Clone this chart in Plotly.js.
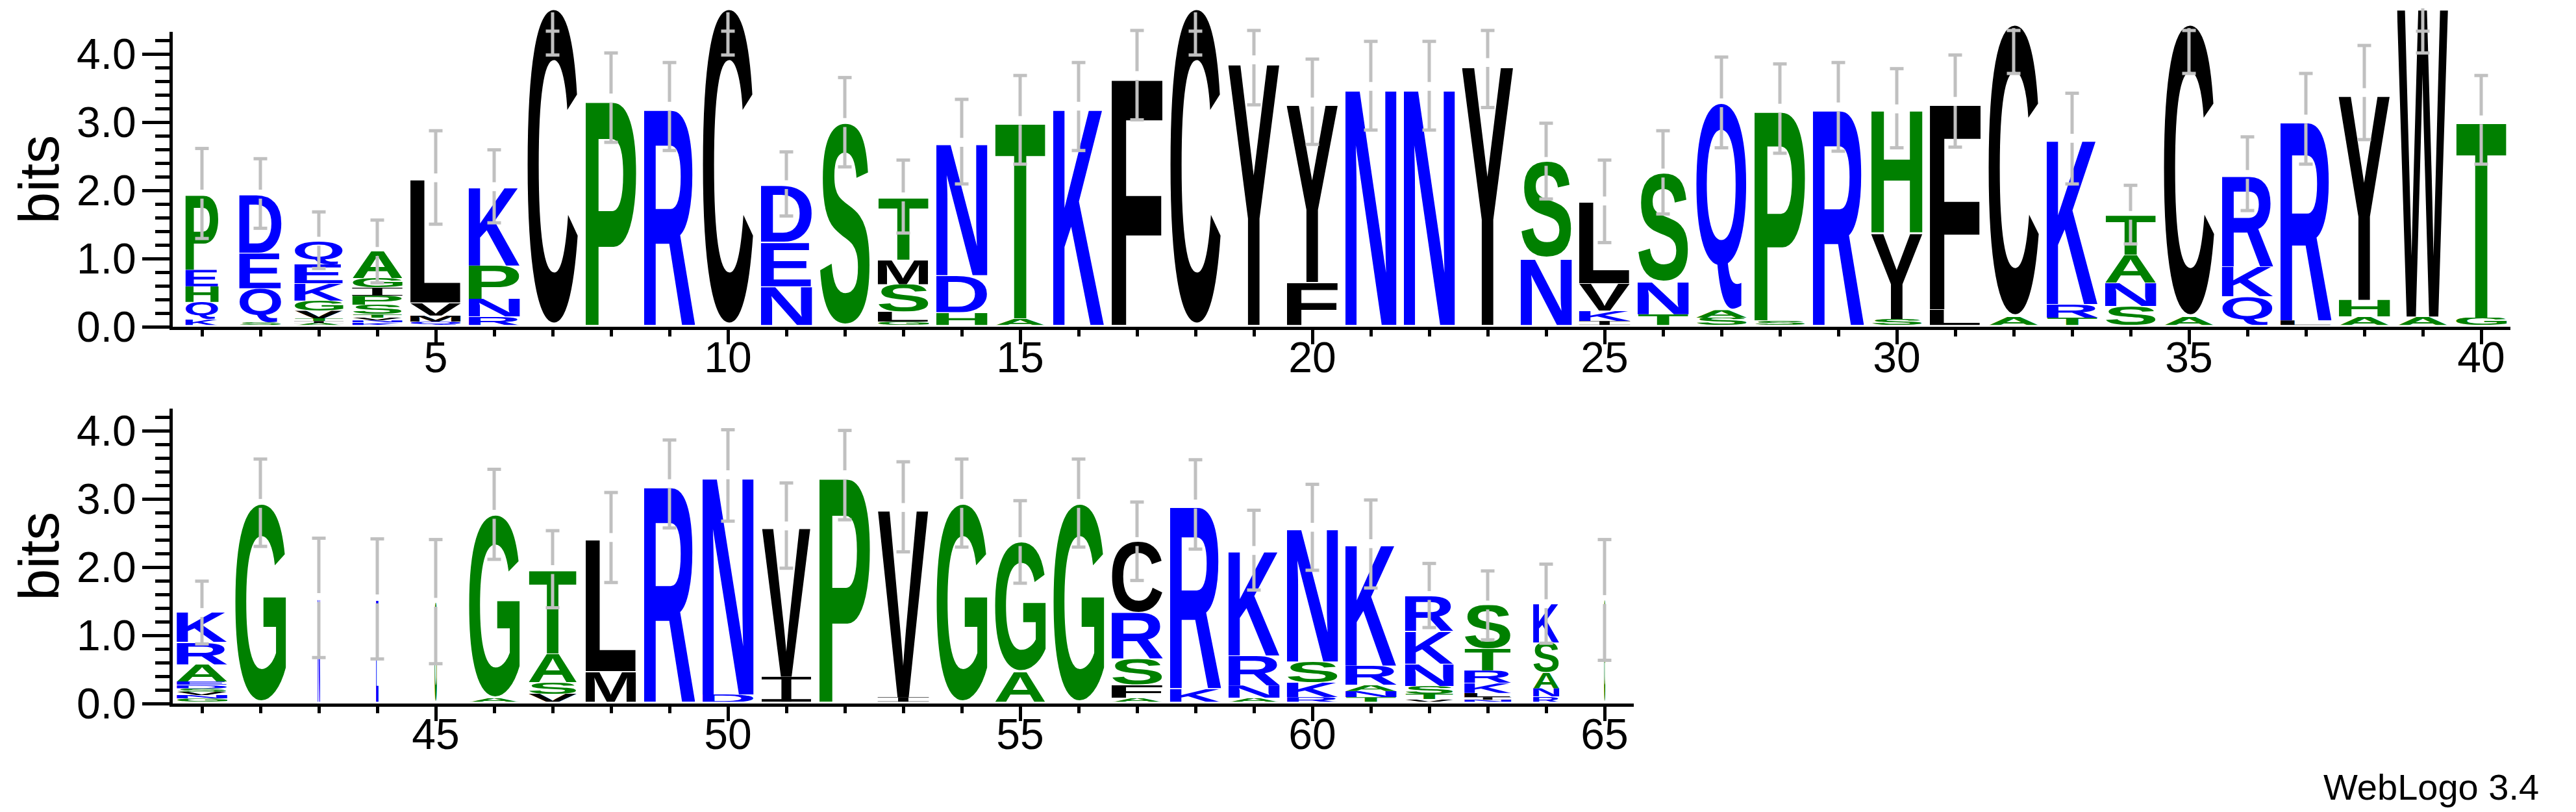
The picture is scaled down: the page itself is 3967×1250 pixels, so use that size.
<!DOCTYPE html>
<html>
<head>
<meta charset="utf-8">
<script src="https://cdn.plot.ly/plotly-3.0.1.min.js"></script>
<style>html,body{margin:0;padding:0;background:#fff;}#chart{width:3967px;height:1250px;}</style>
</head>
<body>
<div id="chart"></div>
<script>
// ---------------- DATA ----------------
const positions = [1,2,3,4,5,6,7,8,9,10,11,12,13,14,15,16,17,18,19,20,
  21,22,23,24,25,26,27,28,29,30,31,32,33,34,35,36,37,38,39,40,
  41,42,43,44,45,46,47,48,49,50,51,52,53,54,55,56,57,58,59,60,
  61,62,63,64,65];

// residues of each stack, bottom to top
const residueLetters = [
  "KQHEP","SQED","AITVGKEQ","KNVTSPIGA","QMVL","RNPK","C","P","R","C",
  "NED","S","GLSMT","HDN","AT","K","F","C","Y","FY",
  "N","N","Y","NS","IKVL","TNS","SAQ","SP","R","SYH",
  "LF","AC","TRK","SNAT","AC","QKR","LR","AHY","AW","GT",
  "GNVSDEARK","G","N","E","G","AG","VSAT","ML","R","DN",
  "IV","P","IV","G","AG","G","AFSRC","KR","ANRK","RKSN",
  "TNARK","VTSNKR","NILKRTS","RNASK","G"
];

// information (bits) of each residue, same order as residueLetters
const residueBits = [
  [0.09,0.25,0.23,0.24,1.11],
  [0.04,0.50,0.52,0.86],
  [0.03,0.03,0.04,0.11,0.15,0.25,0.28,0.34],
  [0.04,0.03,0.04,0.05,0.14,0.13,0.12,0.14,0.39],
  [0.05,0.09,0.19,1.83],
  [0.125,0.26,0.49,1.155],
  [4.65],
  [3.33],
  [3.21],
  [4.65],
  [0.57,0.65,0.84],
  [2.97],
  [0.05,0.15,0.40,0.36,0.92],
  [0.19,0.54,1.95],
  [0.10,2.90],
  [3.21],
  [3.66],
  [4.65],
  [3.89],
  [0.63,2.64],
  [3.50],
  [3.50],
  [3.85],
  [0.99,1.41],
  [0.06,0.15,0.40,1.21],
  [0.16,0.48,1.59],
  [0.11,0.11,3.04],
  [0.07,3.11],
  [3.20],
  [0.09,1.27,1.81],
  [0.23,3.05],
  [0.125,4.295],
  [0.11,0.20,2.43],
  [0.28,0.34,0.41,0.58],
  [0.125,4.295],
  [0.42,0.44,1.35],
  [0.07,2.95],
  [0.125,0.245,3.04],
  [0.125,4.585],
  [0.11,2.90],
  [0.05,0.05,0.05,0.05,0.05,0.05,0.25,0.33,0.43],
  [2.91],
  [1.53],
  [1.51],
  [1.46],
  [0.06,2.69],
  [0.12,0.17,0.42,1.23],
  [0.45,1.96],
  [3.20],
  [0.11,3.22],
  [0.37,2.21],
  [3.33],
  [0.07,2.78],
  [2.91],
  [0.45,1.90],
  [2.91],
  [0.06,0.19,0.38,0.68,1.04],
  [0.20,2.70],
  [0.06,0.18,0.44,1.54],
  [0.07,0.21,0.31,1.97],
  [0.07,0.09,0.09,0.28,1.79],
  [0.04,0.08,0.11,0.33,0.48,0.52],
  [0.03,0.04,0.06,0.15,0.18,0.32,0.64],
  [0.08,0.12,0.23,0.44,0.57],
  [1.50]
];

// relative stack width (fraction of non-gap sequences)
const stackWidth = [
  0.65,0.83,0.96,0.98,1,1,1,1,1,1,
  1,1,1,1,1,1,1,1,1,1,
  1,1,1,1,1,1,1,1,1,1,
  1,1,1,1,1,1,1,1,1,1,
  0.99,1,0.05,0.05,0.05,1,0.95,1,1,1,
  0.96,1,1,1,1,1,1,1,1,1,
  1,0.95,0.92,0.51,0.03
];

// error bar ends (bits)
const errLow = [
  1.27,1.42,0.83,0.62,1.48,1.50,3.96,2.68,2.56,3.96,
  1.60,2.32,1.35,2.07,2.36,2.56,3.01,3.96,3.23,2.65,
  2.86,2.86,3.19,1.85,1.21,1.63,2.60,2.52,2.55,2.60,
  2.61,3.69,2.07,1.19,3.69,1.68,2.36,2.72,3.99,2.36,
  0.85,2.28,0.65,0.63,0.56,2.09,1.38,1.75,2.55,2.65,
  1.96,2.67,2.20,2.27,1.74,2.27,1.78,2.24,1.64,1.93,
  1.67,1.09,0.91,0.86,0.61
];
const errHigh = [
  2.59,2.44,1.66,1.54,2.85,2.57,4.31,3.99,3.85,4.31,
  2.54,3.63,2.42,3.31,3.66,3.85,4.32,4.31,4.32,3.90,
  4.16,4.16,4.32,2.96,2.42,2.85,3.93,3.83,3.85,3.76,
  3.96,4.32,3.40,2.05,4.32,2.76,3.69,4.10,4.31,3.66,
  1.77,3.56,2.40,2.39,2.38,3.41,2.51,3.07,3.84,3.99,
  3.21,3.98,3.52,3.56,2.95,3.56,2.93,3.55,2.81,3.19,
  2.96,2.03,1.92,2.02,2.38
];

const rowSplit = 40;            // positions 1-40 top row, 41-65 bottom row
const maxBits = 4.32;           // log2(20)

// ---------------- STYLE ----------------
const hydrophilic = "RKDENQ", neutral = "SGHTAP";
function residueColor(ch){
  if (hydrophilic.indexOf(ch) >= 0) return '#0000ff';
  if (neutral.indexOf(ch) >= 0) return '#008000';
  return '#000000';
}
const FONT = '"Liberation Sans", Arial, Helvetica, sans-serif';
const W = 3967, H = 1250, PXB = 105;
const fullStack = 0.88;         // stack width in position units
const gapHalf = 0.065;          // break in the error bar at the stack top

// glyph images, stretched to each box through the axes
const cv = document.createElement('canvas');
const ctx = cv.getContext('2d');
ctx.font = 'bold 1000px ' + FONT;
const glyphCache = {};
function glyphURI(ch, color){
  const key = ch + color;
  if (glyphCache[key]) return glyphCache[key];
  let svg;
  if (ch === 'I') {
    // serifed I, as in the logo font
    svg = '<svg xmlns="http://www.w3.org/2000/svg" width="100" height="100" viewBox="0 0 100 100" preserveAspectRatio="none">' +
      '<g fill="' + color + '"><rect x="0" y="0" width="100" height="11"/><rect x="40" y="0" width="20" height="100"/>' +
      '<rect x="0" y="89" width="100" height="11"/></g></svg>';
  } else {
    const m = ctx.measureText(ch);
    const l = -m.actualBoundingBoxLeft, r = m.actualBoundingBoxRight;
    const t = -m.actualBoundingBoxAscent, b = m.actualBoundingBoxDescent;
    const w = r - l, h = b - t;
    svg = '<svg xmlns="http://www.w3.org/2000/svg" width="' + w + '" height="' + h +
      '" viewBox="' + l + ' ' + t + ' ' + w + ' ' + h + '" preserveAspectRatio="none">' +
      '<text x="0" y="0" font-family=\'' + FONT + '\' font-weight="bold" font-size="1000" fill="' + color + '">' + ch + '</text></svg>';
  }
  const uri = 'data:image/svg+xml;charset=utf-8,' + encodeURIComponent(svg);
  glyphCache[key] = uri;
  return uri;
}

const images = [];
const stems = {top:{x:[],y:[]}, bot:{x:[],y:[]}};
const caps = {top:{x:[],y:[]}, bot:{x:[],y:[]}};

positions.forEach((p, i) => {
  const top = p <= rowSplit;
  const xr = top ? 'x' : 'x2', yr = top ? 'y3' : 'y4';
  const bw = fullStack * stackWidth[i];
  let base = 0;
  const letters = residueLetters[i], bits = residueBits[i];
  for (let k = 0; k < letters.length; k++) {
    const ch = letters[k], h = bits[k];
    images.push({
      source: glyphURI(ch, residueColor(ch)),
      xref: xr, yref: yr, x: p - bw / 2, y: base, sizex: bw, sizey: h,
      xanchor: 'left', yanchor: 'bottom', sizing: 'stretch', layer: 'below'
    });
    base += h;
  }
  const s = top ? stems.top : stems.bot, c = top ? caps.top : caps.bot;
  s.x.push(p, p, null); s.y.push(errLow[i], base - gapHalf, null);
  if (errHigh[i] > base + gapHalf) { s.x.push(p, p, null); s.y.push(base + gapHalf, errHigh[i], null); }
  c.x.push(p, p); c.y.push(errLow[i], errHigh[i]);
});

const GRAY = '#c0c0c0';
function stemTrace(d, xa, ya){ return {type:'scatter', mode:'lines', x:d.x, y:d.y, xaxis:xa, yaxis:ya,
  line:{color:GRAY, width:5}, hoverinfo:'skip', showlegend:false, connectgaps:false}; }
function capTrace(d, xa, ya){ return {type:'scatter', mode:'markers', x:d.x, y:d.y, xaxis:xa, yaxis:ya,
  marker:{symbol:'line-ew', size:15, color:GRAY, line:{color:GRAY, width:5}}, hoverinfo:'skip', showlegend:false, cliponaxis:false}; }
// empty traces so the labelled axes' subplots exist
function axisTrace(xa, ya){ return {type:'scatter', mode:'markers', x:[], y:[], xaxis:xa, yaxis:ya, hoverinfo:'skip', showlegend:false}; }

const traces = [
  axisTrace('x', 'y'), axisTrace('x2', 'y2'),
  stemTrace(stems.top, 'x', 'y3'), capTrace(caps.top, 'x', 'y3'),
  stemTrace(stems.bot, 'x2', 'y4'), capTrace(caps.bot, 'x2', 'y4')
];

// ---------------- LAYOUT ----------------
const xLeft = 266, xRightTop = 3866, xRightBot = 2516;
const zeroTop = 503, zeroBot = 1083;
function yDom(zeroPx, bits){ return [(H - zeroPx) / H, (H - zeroPx + bits * PXB) / H]; }

const tickFont = {family: FONT, size: 66, color: '#000'};
function xAxis(range, right, anchor){
  return {domain:[xLeft / W, right / W], range: range, anchor: anchor,
    showline:true, linewidth:5, linecolor:'#000', ticks:'outside', tickwidth:5, ticklen:22, tickcolor:'#000',
    tick0:0, dtick:5, tickfont: tickFont, ticklabelstandoff:-36, showgrid:false, zeroline:false, fixedrange:true,
    minor:{dtick:1, tick0:0, ticks:'outside', ticklen:10, tickwidth:5, tickcolor:'#000', showgrid:false}};
}
function yAxis(zeroPx, anchor){
  return {domain: yDom(zeroPx, maxBits), range:[0, maxBits], anchor: anchor,
    showline:true, linewidth:5, linecolor:'#000', ticks:'outside', tickwidth:5, ticklen:42, tickcolor:'#000',
    tick0:0, dtick:1, tickformat:'.1f', tickfont: tickFont, ticklabelstandoff:-4, showgrid:false, zeroline:false, fixedrange:true,
    minor:{dtick:0.2, tick0:0, ticks:'outside', ticklen:22, tickwidth:5, tickcolor:'#000', showgrid:false},
    title:{text:'bits', font:{family: FONT, size:88, color:'#000'}, standoff:0}};
}
function letterAxis(zeroPx, anchor){
  const top = 4.75;
  return {domain: yDom(zeroPx - 2.5, top), range:[0, top], anchor: anchor, visible:false, fixedrange:true};
}

const layout = {
  width: W, height: H, margin:{l:0, r:0, t:0, b:0},
  paper_bgcolor:'#fff', plot_bgcolor:'rgba(0,0,0,0)', showlegend:false,
  font:{family: FONT, color:'#000'},
  xaxis: xAxis([0.5, 40.5], xRightTop, 'y'),
  yaxis: yAxis(zeroTop, 'x'),
  xaxis2: xAxis([40.5, 65.5], xRightBot, 'y2'),
  yaxis2: yAxis(zeroBot, 'x2'),
  yaxis3: letterAxis(zeroTop, 'x'),
  yaxis4: letterAxis(zeroBot, 'x2'),
  images: images,
  annotations:[{text:'WebLogo 3.4', xref:'paper', yref:'paper', x:3912 / W, y:0.004,
    xanchor:'right', yanchor:'bottom', showarrow:false, font:{family: FONT, size:56, color:'#000'}}]
};

Plotly.newPlot('chart', traces, layout, {displayModeBar:false, staticPlot:true});
</script>
</body>
</html>
